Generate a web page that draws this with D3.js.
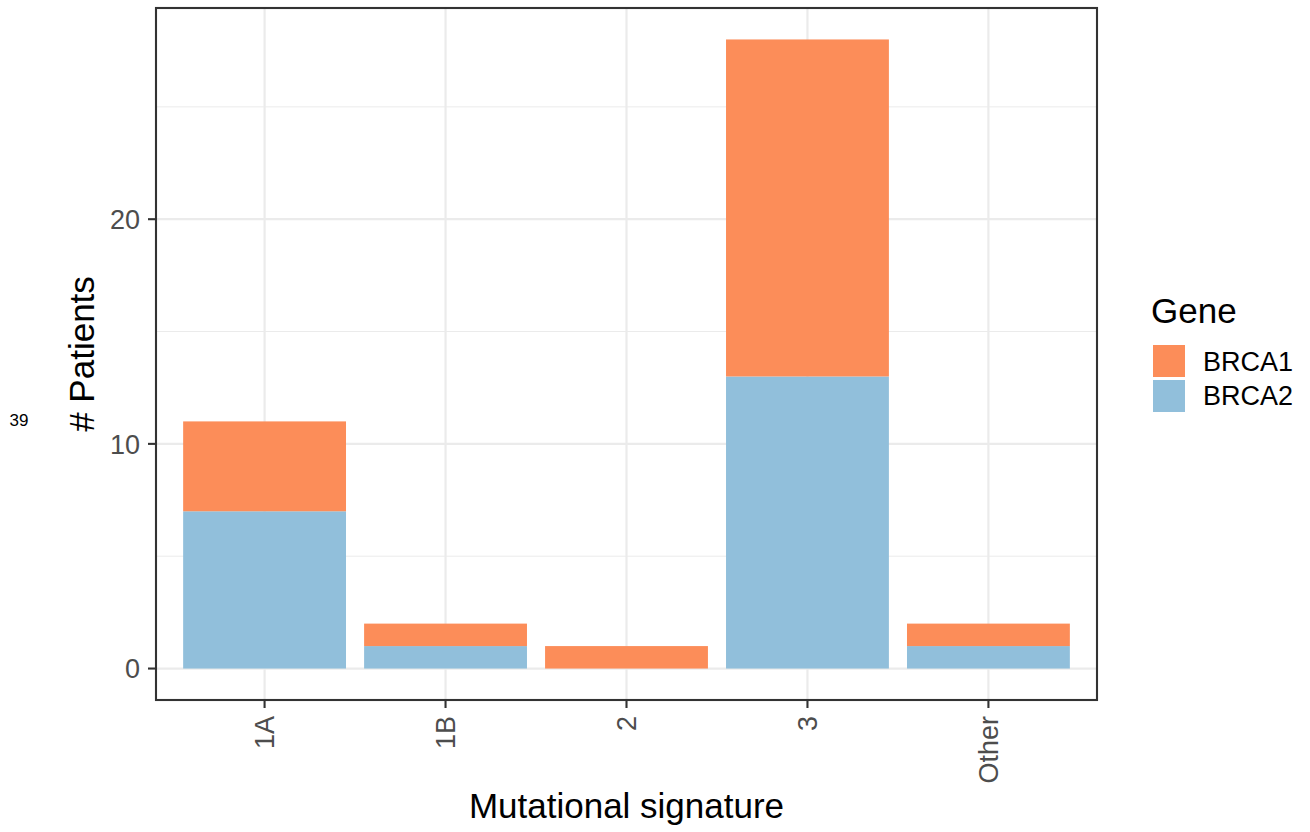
<!DOCTYPE html>
<html><head><meta charset="utf-8">
<script src="https://cdn.jsdelivr.net/npm/d3@7"></script>
<style>body{margin:0;background:#fff}svg{display:block;font-family:"Liberation Sans",Arial,sans-serif}</style>
</head><body>
<svg id="c" width="1310" height="832"></svg>
<script>
const categories = ["1A","1B","2","3","Other"];
const genes = ["BRCA1","BRCA2"];
const brca1 = [4,1,1,15,1];
const brca2 = [7,1,0,13,1];
const yTicks = [0,10,20];
const yMinor = [5,15,25];
const colors = {BRCA1:"#FC8D59", BRCA2:"#91BFDB"};

const svg = d3.select("#c");
const L=156,R=1097,T=8,B=700;
const n = categories.length;
const x = d3.scaleLinear().domain([0.4, n+0.6]).range([L,R]);
const ymax = d3.max(categories.map((c,i)=>brca1[i]+brca2[i]));
const y = d3.scaleLinear().domain([-ymax*0.05, ymax*1.05]).range([B,T]);

// grid
const g = svg.append("g");
g.selectAll(".ymin").data(yMinor).enter().append("line")
 .attr("x1",L).attr("x2",R).attr("y1",d=>y(d)).attr("y2",d=>y(d))
 .attr("stroke","#EBEBEB").attr("stroke-width",1);
g.selectAll(".ymaj").data(yTicks).enter().append("line")
 .attr("x1",L).attr("x2",R).attr("y1",d=>y(d)).attr("y2",d=>y(d))
 .attr("stroke","#EBEBEB").attr("stroke-width",2.2);
g.selectAll(".xmaj").data(categories).enter().append("line")
 .attr("x1",(d,i)=>x(i+1)).attr("x2",(d,i)=>x(i+1)).attr("y1",T).attr("y2",B)
 .attr("stroke","#EBEBEB").attr("stroke-width",2.2);

// bars
const bw = 0.9;
const stackData = categories.map((c,i)=>({cat:c,i:i,BRCA1:brca1[i],BRCA2:brca2[i]}));
const stack = d3.stack().keys(["BRCA2","BRCA1"])(stackData);
svg.append("g").selectAll("g").data(stack).enter().append("g")
 .attr("fill",d=>colors[d.key])
 .selectAll("rect").data(d=>d).enter().append("rect")
 .attr("x",d=>x(d.data.i+1-bw/2)).attr("width",d=>x(d.data.i+1+bw/2)-x(d.data.i+1-bw/2))
 .attr("y",d=>y(d[1])).attr("height",d=>y(d[0])-y(d[1]));

// border
svg.append("rect").attr("x",L).attr("y",T).attr("width",R-L).attr("height",B-T)
 .attr("fill","none").attr("stroke","#333333").attr("stroke-width",2.1);

// y axis ticks
const ya = svg.append("g");
ya.selectAll("line").data(yTicks).enter().append("line")
 .attr("x1",L-8).attr("x2",L).attr("y1",d=>y(d)).attr("y2",d=>y(d))
 .attr("stroke","#333333").attr("stroke-width",2.1);
ya.selectAll("text").data(yTicks).enter().append("text")
 .attr("x",L-16).attr("y",d=>y(d)).attr("dy","0.36em").attr("text-anchor","end")
 .attr("font-size",27).attr("fill","#4D4D4D").text(d=>d);

// x axis
const xa = svg.append("g");
xa.selectAll("line").data(categories).enter().append("line")
 .attr("x1",(d,i)=>x(i+1)).attr("x2",(d,i)=>x(i+1)).attr("y1",B).attr("y2",B+8)
 .attr("stroke","#333333").attr("stroke-width",2.1);
xa.selectAll("text").data(categories).enter().append("text")
 .attr("transform",(d,i)=>`translate(${x(i+1)},${B+16}) rotate(-90)`)
 .attr("dy","0.36em").attr("text-anchor","end")
 .attr("font-size",27).attr("fill","#4D4D4D").text(d=>d);

// titles
svg.append("text").attr("x",(L+R)/2).attr("y",818).attr("text-anchor","middle")
 .attr("font-size",35).attr("fill","#000").text("Mutational signature");
svg.append("text").attr("transform",`translate(94,${(T+B)/2}) rotate(-90)`)
 .attr("text-anchor","middle").attr("font-size",35).attr("fill","#000").text("# Patients");
svg.append("text").attr("x",19).attr("y",420).attr("dy","0.35em").attr("text-anchor","middle")
 .attr("font-size",17).attr("fill","#000").text("39");

// legend
const lg = svg.append("g");
lg.append("text").attr("x",1151).attr("y",323).attr("font-size",35).attr("fill","#000").text("Gene");
lg.selectAll("rect").data(genes).enter().append("rect")
 .attr("x",1153).attr("y",(d,i)=>345+i*35).attr("width",32).attr("height",32)
 .attr("fill",d=>colors[d]);
lg.selectAll(".lt").data(genes).enter().append("text")
 .attr("x",1203).attr("y",(d,i)=>371+i*33.5)
 .attr("font-size",27).attr("fill","#000").text(d=>d);
</script>
</body></html>
